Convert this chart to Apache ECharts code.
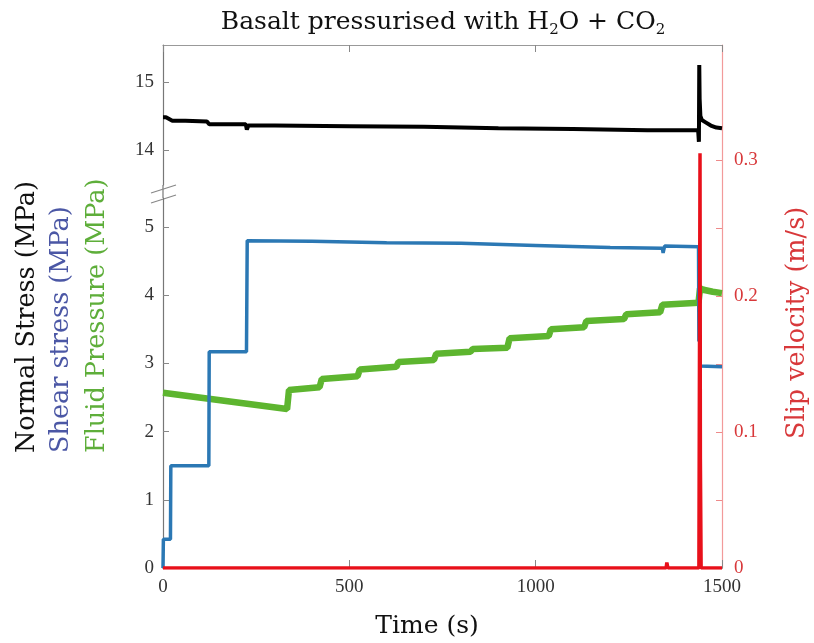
<!DOCTYPE html>
<html>
<head>
<meta charset="utf-8">
<script src="https://cdn.jsdelivr.net/npm/echarts@6/dist/echarts.min.js"></script>
<style>
html,body{margin:0;padding:0;background:#fff;}
#chart{width:814px;height:643px;}
</style>
</head>
<body>
<div id="chart"></div>
<script>
// ---- data ----
const normalT = [0, 8, 25, 60, 118, 124, 222, 225, 229, 300, 500, 700, 900, 1100, 1300, 1345, 1350, 1356, 1436, 1438, 1439, 1440, 1442, 1446, 1455, 1470, 1485, 1500];
const normalV = [14.48, 14.48, 14.43, 14.43, 14.42, 14.38, 14.38, 14.30, 14.36, 14.36, 14.35, 14.34, 14.32, 14.31, 14.29, 14.29, 14.27, 14.29, 14.29, 14.12, 15.25, 14.75, 14.5, 14.44, 14.41, 14.36, 14.33, 14.32];

const shearT = [0, 1, 20, 21, 123, 124, 224, 226, 400, 600, 800, 1000, 1200, 1340, 1342, 1346, 1437, 1438, 1439, 1441, 1500];
const shearV = [0, 0.42, 0.42, 1.5, 1.5, 3.17, 3.17, 4.8, 4.79, 4.77, 4.76, 4.73, 4.70, 4.69, 4.62, 4.72, 4.71, 3.32, 4.3, 2.96, 2.95];

const fluidT = [0, 333, 338, 420, 426, 522, 528, 626, 632, 727, 733, 825, 831, 924, 930, 1035, 1041, 1130, 1136, 1237, 1243, 1334, 1340, 1437, 1441, 1450, 1475, 1500];
const fluidV = [2.57, 2.33, 2.61, 2.65, 2.77, 2.81, 2.91, 2.95, 3.02, 3.05, 3.14, 3.17, 3.21, 3.23, 3.37, 3.40, 3.50, 3.53, 3.62, 3.65, 3.72, 3.75, 3.86, 3.89, 4.10, 4.08, 4.05, 4.03];

const slipT = [0, 1350, 1352, 1355, 1438, 1440, 1441, 1442, 1444, 1500];
const slipV = [0, 0, 0.004, 0, 0, 0.2, 0.305, 0.08, 0, 0];

const xTicks = [0, 500, 1000, 1500];
const topTicks = [14, 15];
const bottomTicks = [0, 1, 2, 3, 4, 5];
const slipTicks = [0, 0.05, 0.1, 0.15, 0.2, 0.25, 0.3];
const slipLabels = [0, 0.1, 0.2, 0.3];

const zip = (t, v) => t.map((x, i) => [x, v[i]]);

const chart = echarts.init(document.getElementById('chart'), null, {renderer: 'canvas'});

const L = 163, W = 559;
const tickFont = {fontFamily: 'Liberation Serif', fontSize: 19, color: '#333'};
const rotStyle = (text, color) => ({text: text, font: '25.5px "DejaVu Serif"', fill: color,
  textAlign: 'left', textVerticalAlign: 'middle', align: 'left', verticalAlign: 'middle'});

const option = {
  animation: false,
  backgroundColor: '#fff',
  title: {
    text: '{a|Basalt pressurised with H}{s|2}{a|O + CO}{s|2}',
    left: 438, top: 1, textAlign: 'center',
    textStyle: {
      fontWeight: 'normal',
      rich: {
        a: {fontFamily: 'DejaVu Serif', fontSize: 25, fontWeight: 'normal', lineHeight: 32, color: '#111'},
        s: {fontFamily: 'DejaVu Serif', fontSize: 15, fontWeight: 'normal', lineHeight: 15, verticalAlign: 'bottom', color: '#111'}
      }
    }
  },
  grid: [
    {left: L, width: W, top: 45, height: 140},
    {left: L, width: W, top: 198, height: 370},
    {left: L, width: W, top: 45, height: 523}
  ],
  xAxis: [
    {type: 'value', gridIndex: 0, position: 'top', min: 0, max: 1500,
     axisLine: {show: true, onZero: false, lineStyle: {color: '#999', width: 1.2}},
     axisTick: {show: true, inside: true, length: 7, customValues: xTicks, lineStyle: {color: '#888'}},
     axisLabel: {show: false}, splitLine: {show: false}},
    {type: 'value', gridIndex: 1, position: 'bottom', min: 0, max: 1500,
     axisLine: {show: true, onZero: false, lineStyle: {color: '#666', width: 1.2}},
     axisTick: {show: true, inside: true, length: 8, customValues: xTicks, lineStyle: {color: '#888'}},
     axisLabel: Object.assign({show: true, margin: 10, customValues: xTicks, formatter: v => String(v)}, tickFont),
     splitLine: {show: false}},
    {type: 'value', gridIndex: 2, min: 0, max: 1500, show: false,
     axisLine: {onZero: false}}
  ],
  yAxis: [
    {type: 'value', gridIndex: 0, min: 13.485, max: 15.544,
     axisLine: {show: true, onZero: false, lineStyle: {color: '#777', width: 1.2}},
     axisTick: {show: true, inside: true, length: 6, customValues: topTicks, lineStyle: {color: '#888'}},
     axisLabel: Object.assign({show: true, margin: 9, customValues: topTicks, formatter: v => String(v)}, tickFont),
     splitLine: {show: false}},
    {type: 'value', gridIndex: 1, min: 0, max: 5.425,
     axisLine: {show: true, onZero: false, lineStyle: {color: '#777', width: 1.2}},
     axisTick: {show: true, inside: true, length: 6, customValues: bottomTicks, lineStyle: {color: '#888'}},
     axisLabel: Object.assign({show: true, margin: 9, customValues: bottomTicks, formatter: v => String(v)}, tickFont),
     splitLine: {show: false}},
    {type: 'value', gridIndex: 2, position: 'right', min: 0, max: 0.3846,
     axisLine: {show: true, onZero: false, lineStyle: {color: '#f29a9a', width: 1.2}},
     axisTick: {show: true, inside: true, length: 6, customValues: slipTicks, lineStyle: {color: '#ee8a8a'}},
     axisLabel: {show: true, margin: 12, customValues: slipLabels, formatter: v => String(v),
                 fontFamily: 'Liberation Serif', fontSize: 19, color: '#d8383a'},
     splitLine: {show: false}}
  ],
  series: [
    {type: 'line', xAxisIndex: 1, yAxisIndex: 1, data: zip(fluidT, fluidV), showSymbol: false,
     lineStyle: {color: '#5db52f', width: 6.5}, z: 2},
    {type: 'line', xAxisIndex: 1, yAxisIndex: 1, data: zip(shearT, shearV), showSymbol: false,
     lineStyle: {color: '#2b78b4', width: 3.5}, z: 3},
    {type: 'line', xAxisIndex: 0, yAxisIndex: 0, data: zip(normalT, normalV), showSymbol: false,
     lineStyle: {color: '#000', width: 4}, z: 3},
    {type: 'line', xAxisIndex: 2, yAxisIndex: 2, data: zip(slipT, slipV), showSymbol: false,
     lineStyle: {color: '#e8101a', width: 3.5}, z: 5}
  ],
  graphic: [
    {type: 'line', shape: {x1: 163, y1: 185, x2: 163, y2: 198}, style: {stroke: '#777', lineWidth: 1.2}},
    {type: 'line', shape: {x1: 151, y1: 193, x2: 176, y2: 185}, style: {stroke: '#888', lineWidth: 1.2}},
    {type: 'line', shape: {x1: 151, y1: 203, x2: 176, y2: 195}, style: {stroke: '#888', lineWidth: 1.2}},
    {type: 'text', x: 27, y: 453, rotation: Math.PI / 2, style: rotStyle('Normal Stress (MPa)', '#111')},
    {type: 'text', x: 61, y: 453, rotation: Math.PI / 2, style: rotStyle('Shear stress (MPa)', '#4b57a5')},
    {type: 'text', x: 97, y: 453, rotation: Math.PI / 2, style: rotStyle('Fluid Pressure (MPa)', '#5eae3a')},
    {type: 'text', x: 797, y: 439, rotation: Math.PI / 2, style: rotStyle('Slip velocity (m/s)', '#d8383a')},
    {type: 'text', x: 427, y: 626,
     style: {text: 'Time (s)', font: '25px "DejaVu Serif"', fill: '#111', textAlign: 'center', textVerticalAlign: 'middle', align: 'center', verticalAlign: 'middle'}}
  ]
};
chart.setOption(option);
</script>
</body>
</html>
